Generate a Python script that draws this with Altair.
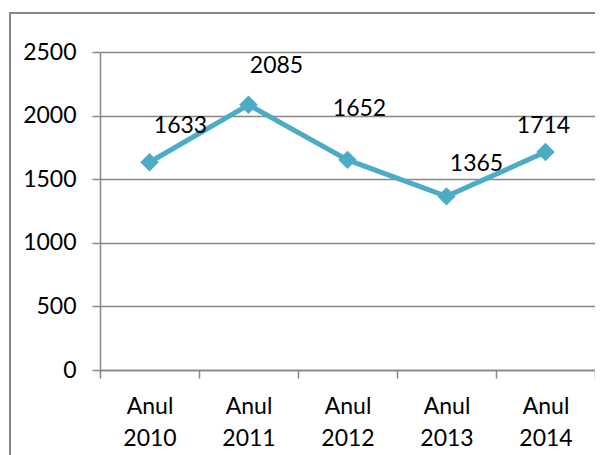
import altair as alt
import pandas as pd

categories = ["Anul 2010", "Anul 2011", "Anul 2012", "Anul 2013", "Anul 2014"]
values = [1633, 2085, 1652, 1365, 1714]
y_ticks = [0, 500, 1000, 1500, 2000, 2500]

df = pd.DataFrame({"cat": categories, "val": values})

GRAY = "#878787"
BLUE = "#4BACC6"
FONT = "Lato"
FS = 23

x_enc = alt.X(
    "cat:N",
    sort=categories,
    bandPosition=0.5,
    scale=alt.Scale(type="band", paddingInner=0, paddingOuter=0),
    axis=alt.Axis(
        title=None,
        labelAngle=0,
        labelExpr="split(datum.label, ' ')",
        labelFont=FONT,
        labelFontSize=FS,
        labelColor="black",
        labelLineHeight=32,
        labelPadding=17,
        tickBand="extent",
        tickSize=8,
        tickColor=GRAY,
        tickWidth=1.5,
        domainColor=GRAY,
        domainWidth=1.5,
        grid=False,
    ),
)
y_enc = alt.Y(
    "val:Q",
    scale=alt.Scale(domain=[0, 2500], nice=False, zero=True),
    axis=alt.Axis(
        title=None,
        values=y_ticks,
        format="d",
        labelFont=FONT,
        labelFontSize=FS,
        labelColor="black",
        labelPadding=16,
        tickSize=8,
        tickColor=GRAY,
        tickWidth=1.5,
        domainColor=GRAY,
        domainWidth=1.5,
        grid=True,
        gridColor=GRAY,
        gridWidth=1.5,
    ),
)

base = alt.Chart(df)

frame = base.mark_rect(fill=None, stroke=GRAY, strokeWidth=1.5, clip=False).encode(
    x=alt.value(-90), x2=alt.value(510), y=alt.value(-39), y2=alt.value(420)
)

line = base.mark_line(color=BLUE, strokeWidth=5).encode(x=x_enc, y=y_enc)
points = base.mark_point(shape="diamond", filled=True, color=BLUE, size=340, opacity=1).encode(
    x=x_enc, y=y_enc
)

label_offsets = {
    "Anul 2010": (31, -29),
    "Anul 2011": (28, -32),
    "Anul 2012": (12, -44),
    "Anul 2013": (30, -25),
    "Anul 2014": (-2, -19),
}
labels = []
for c, (dx, dy) in label_offsets.items():
    labels.append(
        base.transform_filter(alt.datum.cat == c)
        .mark_text(font=FONT, fontSize=FS, color="black", align="center", baseline="alphabetic", dx=dx, dy=dy)
        .encode(x=x_enc, y=y_enc, text=alt.Text("val:Q", format="d"))
    )

chart = (
    alt.layer(frame, line, points, *labels)
    .properties(
        width=495,
        height=318,
        autosize=alt.AutoSizeParams(type="none"),
        padding={"left": 92, "top": 44, "right": 0, "bottom": 85},
    )
    .configure_view(stroke=None)
    .configure(background="white")
)

chart.save("out.html", embed_options={"renderer": "svg", "actions": False})
